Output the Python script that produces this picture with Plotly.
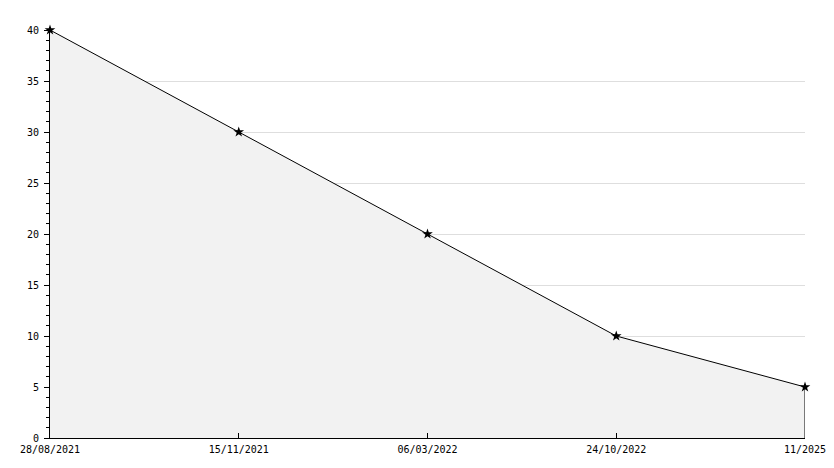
import plotly.graph_objects as go

categories = ["28/08/2021", "15/11/2021", "06/03/2022", "24/10/2022", "11/2025"]
values = [40, 30, 20, 10, 5]

xs = list(range(len(categories)))

fig = go.Figure()
fig.add_trace(go.Scatter(
    x=xs, y=values, mode="lines+markers",
    line=dict(color="black", width=1),
    fill="tozeroy", fillcolor="#f2f2f2",
    marker=dict(symbol="star", size=8, color="black"),
    hoverinfo="skip", showlegend=False, cliponaxis=False,
))
# right edge of the filled area
fig.add_trace(go.Scatter(
    x=[xs[-1], xs[-1]], y=[values[-1], 0], mode="lines",
    line=dict(color="black", width=1), hoverinfo="skip", showlegend=False,
    cliponaxis=False,
))

fig.update_layout(
    width=826, height=460,
    margin=dict(l=42, r=29, t=22, b=30),
    paper_bgcolor="white", plot_bgcolor="white",
    font=dict(family="DejaVu Sans Mono", size=10, color="#000"),
)
fig.update_xaxes(
    tickmode="array", tickvals=xs, ticktext=categories,
    range=[0, len(categories) - 1],
    showgrid=False, zeroline=False,
    showline=True, linecolor="black", linewidth=1,
    ticks="inside", ticklen=5, tickcolor="black",
    ticklabelstandoff=2,
    automargin=False,
)
fig.update_yaxes(
    range=[0, 40], dtick=5, tick0=0,
    showgrid=True, gridcolor="#dedede", gridwidth=1,
    zeroline=False,
    showline=True, linecolor="black", linewidth=1,
    ticks="outside", ticklen=5, tickcolor="black",
    ticklabelstandoff=3,
    minor=dict(dtick=1, ticks="outside", ticklen=3, tickcolor="black", showgrid=False),
    automargin=False,
)

fig.write_html("out.html")
